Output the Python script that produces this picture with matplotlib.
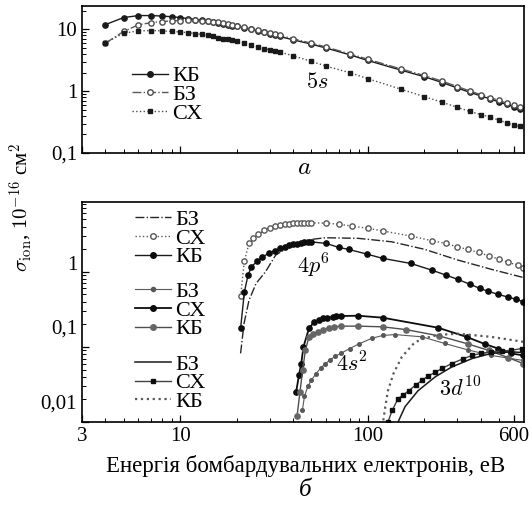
import matplotlib
matplotlib.use('Agg')
import matplotlib.pyplot as plt
from matplotlib.lines import Line2D
from matplotlib.ticker import NullFormatter
from matplotlib.transforms import ScaledTranslation

plt.rcParams['font.family'] = ['Liberation Serif', 'DejaVu Serif']
plt.rcParams['mathtext.fontset'] = 'cm'

# ---- panel a: 5s ----
x_5s = [4, 5, 6, 7, 8, 9, 10, 11, 12, 13, 14, 15, 16, 17, 18, 19, 20, 22, 24, 26, 28, 30, 32, 34,
        40, 50, 60, 80, 100, 150, 200, 250, 300, 350, 400, 450, 500, 550, 600, 650]
kb_5s = [12.0, 15.6, 16.8, 16.8, 16.5, 16.1, 15.6, 15.0, 14.5, 14.0, 13.5, 13.0, 12.6, 12.2, 11.8, 11.5,
         11.2, 10.6, 10.0, 9.5, 9.0, 8.4, 8.0, 7.7, 6.8, 5.8, 5.0, 3.9, 3.15, 2.2, 1.72, 1.38, 1.13,
         0.96, 0.84, 0.75, 0.67, 0.61, 0.56, 0.52]
bz_5s = [6.0, 9.3, 11.9, 12.9, 13.4, 13.8, 13.9, 14.0, 14.0, 13.9, 13.7, 13.4, 13.0, 12.6, 12.2, 11.8,
         11.4, 10.8, 10.2, 9.7, 9.2, 8.7, 8.3, 8.0, 7.1, 6.0, 5.2, 4.05, 3.3, 2.3, 1.8, 1.45, 1.19,
         1.01, 0.88, 0.79, 0.71, 0.64, 0.59, 0.55]
sh_5s = [6.1, 8.7, 9.5, 9.6, 9.5, 9.3, 9.1, 8.9, 8.6, 8.3, 8.0, 7.7, 7.4, 7.1, 6.9, 6.7, 6.5, 6.1,
         5.6, 5.2, 4.9, 4.7, 4.5, 4.3, 3.75, 3.05, 2.55, 2.0, 1.6, 1.08, 0.82, 0.66, 0.55, 0.47,
         0.42, 0.38, 0.34, 0.31, 0.28, 0.27]

# ---- panel b: 4p6 ----
x_4p_sh = [21, 22, 23.3, 24.5, 26, 28, 30, 32, 34, 36, 38, 40, 42, 44, 46, 48, 50, 60, 70, 82, 100,
           120, 170, 220, 260, 300, 340, 390, 440, 500, 560, 630, 675]
sh_4p = [0.47, 1.4, 2.39, 2.8, 3.15, 3.55, 3.85, 4.05, 4.2, 4.3, 4.37, 4.42, 4.45, 4.47, 4.48, 4.48,
         4.48, 4.45, 4.3, 4.07, 3.8, 3.5, 2.99, 2.59, 2.39, 2.15, 1.99, 1.81, 1.63, 1.48, 1.33, 1.23, 1.14]
x_4p_kb = [21, 22, 23, 24, 25.8, 27.4, 29.7, 32, 34, 36, 38, 40, 42, 44, 46, 48, 50, 60, 70, 79, 99,
           120, 170, 220, 262, 303, 351, 397, 437, 496, 560, 617, 673]
kb_4p = [0.176, 0.54, 0.9, 1.17, 1.39, 1.58, 1.76, 1.92, 2.05, 2.15, 2.25, 2.32, 2.38, 2.43, 2.47,
         2.5, 2.5, 2.39, 2.11, 1.99, 1.72, 1.51, 1.29, 1.05, 0.90, 0.79, 0.68, 0.60, 0.55, 0.50,
         0.46, 0.43, 0.40]
x_4p_bz = [21, 21.9, 23.3, 25.4, 28.5, 32.3, 39.3, 50, 59.5, 89, 134, 201, 303, 455, 673]
bz_4p = [0.082, 0.205, 0.42, 0.70, 1.0, 1.67, 2.27, 2.7, 2.84, 2.79, 2.51, 1.99, 1.43, 1.08, 0.84]

# ---- panel b: 4s2 ----
x_4s_sh = [41.5, 43, 44.2, 45.4, 48.6, 51.7, 55, 58, 61, 65, 68, 72, 89, 120, 237, 336, 421, 496, 582, 673]
sh_4s = [0.025, 0.042, 0.06, 0.1, 0.176, 0.215, 0.23, 0.24, 0.245, 0.25, 0.255, 0.258, 0.26, 0.245,
         0.18, 0.136, 0.109, 0.095, 0.082, 0.077]
x_4s_kb = [42, 43.5, 45, 46.5, 48.6, 51, 54, 58, 62, 66, 72, 89, 120, 160, 240, 340, 440, 560, 673]
kb_4s = [0.012, 0.025, 0.05, 0.09, 0.136, 0.148, 0.158, 0.17, 0.18, 0.185, 0.189, 0.189, 0.185,
         0.17, 0.14, 0.11, 0.09, 0.072, 0.06]
x_4s_bz = [44.8, 46, 48, 50, 53, 56, 59.5, 63, 67, 72, 80, 90, 105, 120, 140, 195, 257, 343, 455, 673]
bz_4s = [0.0143, 0.022, 0.03, 0.036, 0.044, 0.052, 0.06, 0.067, 0.075, 0.082, 0.095, 0.11, 0.13,
         0.142, 0.146, 0.136, 0.111, 0.091, 0.077, 0.066]

# ---- panel b: 3d10 ----
x_3d_kb = [121, 124, 128, 137, 152, 178, 200, 240, 303, 455, 673]
kb_3d = [0.0105, 0.016, 0.026, 0.044, 0.074, 0.115, 0.13, 0.145, 0.15, 0.136, 0.117]
x_3d_sh = [128, 135, 145, 155, 165, 180, 195, 210, 229, 250, 280, 320, 360, 400, 455, 520, 582, 660]
sh_3d = [0.01, 0.0143, 0.0205, 0.023, 0.026, 0.031, 0.036, 0.041, 0.046, 0.052, 0.06, 0.069, 0.077,
         0.082, 0.086, 0.088, 0.09, 0.095]
x_3d_bz = [145, 158, 185, 229, 280, 360, 455, 582, 673]
bz_3d = [0.01, 0.016, 0.026, 0.04, 0.054, 0.07, 0.082, 0.086, 0.084]

W, H = 532, 508
fig = plt.figure(figsize=(W / 100, H / 100), dpi=100)
ax1 = fig.add_axes([82 / W, 1 - 153 / H, 442 / W, 147 / H])
ax2 = fig.add_axes([82 / W, 1 - 422 / H, 442 / W, 220 / H])

fs = 15
lfs = 16

# panel a
ax1.plot(x_5s, kb_5s, '-', color='0.1', lw=1.0, marker='o', ms=3.8, mfc='0.1', mec='0.1')
ax1.plot(x_5s, bz_5s, '-.', color='0.35', lw=1.0, marker='o', ms=3.8, mfc='white', mec='0.3')
ax1.plot(x_5s, sh_5s, ':', color='0.3', lw=1.0, marker='s', ms=3.0, mfc='0.1', mec='0.1')

leg_kw = dict(frameon=False, fontsize=lfs, numpoints=1, handlelength=1.6, handletextpad=0.22,
              labelspacing=-0.08, borderpad=0, borderaxespad=0, loc='center left')

h_a = [Line2D([], [], ls='-', color='0.1', lw=1.0, marker='o', ms=4, mfc='0.1', mec='0.1'),
       Line2D([], [], ls='-.', color='0.35', lw=1.0, marker='o', ms=4, mfc='white', mec='0.3'),
       Line2D([], [], ls=':', color='0.3', lw=1.0, marker='s', ms=3.2, mfc='0.1', mec='0.1')]
ax1.legend(h_a, ['КБ', 'БЗ', 'СХ'], bbox_to_anchor=(0.113, 0.395), **leg_kw)
ax1.text(54, 1.34, '$5s$', fontsize=fs + 1, ha='center', va='center')

ax1.set_yscale('log')
ax1.set_xscale('log')
ax1.set_xlim(3, 680)
ax1.set_ylim(0.1, 24)
ax1.set_yticks([0.1, 1, 10])
ax1.set_yticklabels(['0,1', '1', '10'])
ax1.set_xticks([3, 10, 100, 600])
ax1.set_xticklabels([])

# panel b: 4p6
ax2.plot(x_4p_bz, bz_4p, '-.', color='0.15', lw=1.0)
ax2.plot(x_4p_sh, sh_4p, ':', color='0.35', lw=1.0, marker='o', ms=3.8, mfc='white', mec='0.35')
ax2.plot(x_4p_kb, kb_4p, '-', color='0.1', lw=1.0, marker='o', ms=3.8, mfc='0.05', mec='0.05')
# 4s2
ax2.plot(x_4s_bz, bz_4s, '-', color='0.35', lw=0.8, marker='o', ms=2.6, mfc='0.35', mec='0.35')
ax2.plot(x_4s_sh, sh_4s, '-', color='0.05', lw=1.3, marker='o', ms=3.8, mfc='0.05', mec='0.05')
ax2.plot(x_4s_kb, kb_4s, '-', color='0.3', lw=1.0, marker='o', ms=3.8, mfc='0.4', mec='0.4')
# 3d10
ax2.plot(x_3d_bz, bz_3d, '-', color='0.1', lw=1.1)
ax2.plot(x_3d_sh, sh_3d, '-', color='0.25', lw=1.0, marker='s', ms=2.6, mfc='0.05', mec='0.05')
ax2.plot(x_3d_kb, kb_3d, ':', color='0.35', lw=1.6)

h1 = [Line2D([], [], ls='-.', color='0.15', lw=1.0),
      Line2D([], [], ls=':', color='0.35', lw=1.0, marker='o', ms=4, mfc='white', mec='0.35'),
      Line2D([], [], ls='-', color='0.1', lw=1.0, marker='o', ms=4, mfc='0.05', mec='0.05')]
h2 = [Line2D([], [], ls='-', color='0.35', lw=0.8, marker='o', ms=3, mfc='0.35', mec='0.35'),
      Line2D([], [], ls='-', color='0.05', lw=1.3, marker='o', ms=4, mfc='0.05', mec='0.05'),
      Line2D([], [], ls='-', color='0.3', lw=1.0, marker='o', ms=4, mfc='0.4', mec='0.4')]
h3 = [Line2D([], [], ls='-', color='0.1', lw=1.1),
      Line2D([], [], ls='-', color='0.25', lw=1.0, marker='s', ms=3, mfc='0.05', mec='0.05'),
      Line2D([], [], ls=':', color='0.35', lw=1.6)]
labs = ['БЗ', 'СХ', 'КБ']
l1 = ax2.legend(h1, labs, bbox_to_anchor=(0.12, 0.835), **leg_kw)
ax2.add_artist(l1)
l2 = ax2.legend(h2, labs, bbox_to_anchor=(0.12, 0.508), **leg_kw)
ax2.add_artist(l2)
ax2.legend(h3, labs, bbox_to_anchor=(0.12, 0.177), **leg_kw)

ax2.text(51.5, 1.19, '$4p^6$', fontsize=fs + 1, ha='center', va='center')
ax2.text(82, 0.0588, '$4s^2$', fontsize=fs + 1, ha='center', va='center')
ax2.text(312, 0.0273, '$3d^{10}$', fontsize=fs + 1, ha='center', va='center')

ax2.set_yscale('log')
ax2.set_xscale('log')
ax2.set_xlim(3, 680)
ax2.set_ylim(0.01, 8.5)
ax2.set_xticks([3, 10, 100, 600])
ax2.set_xticklabels(['3', '10', '100', '600'])
ax2.set_yticks([0.01, 0.1, 1])
ax2.set_yticklabels(['0,01', '0,1', '1'])

for ax in (ax1, ax2):
    ax.xaxis.set_minor_formatter(NullFormatter())
    ax.yaxis.set_minor_formatter(NullFormatter())
    ax.tick_params(which='both', direction='in', top=False, right=False, labelsize=fs)
    ax.tick_params(which='major', length=5, width=0.9)
    ax.tick_params(which='minor', length=3, width=0.7)
    for s in ax.spines.values():
        s.set_linewidth(1.2)

# tick labels in the lower panel sit a bit above their ticks in the original
for lab, dy in zip(ax2.get_yticklabels(), [20, 20, 9]):
    lab.set_transform(lab.get_transform() + ScaledTranslation(0, dy / 100, fig.dpi_scale_trans))

fig.text(0.041, 1 - 207 / H, r'$\sigma_{\rm ion}$, $10^{-16}$ см$^{2}$', rotation=90,
         fontsize=fs, ha='center', va='center')
fig.text(306 / W, 1 - 466 / H, 'Енергія бомбардувальних електронів, еВ', fontsize=16.5,
         ha='center', va='center')
fig.text(304 / W, 1 - 168 / H, '$a$', fontsize=fs + 3, ha='center', va='center')
fig.text(305 / W, 1 - 490 / H, 'б', fontsize=fs + 3, style='italic', ha='center', va='center')

fig.savefig('out.png', dpi=100)
